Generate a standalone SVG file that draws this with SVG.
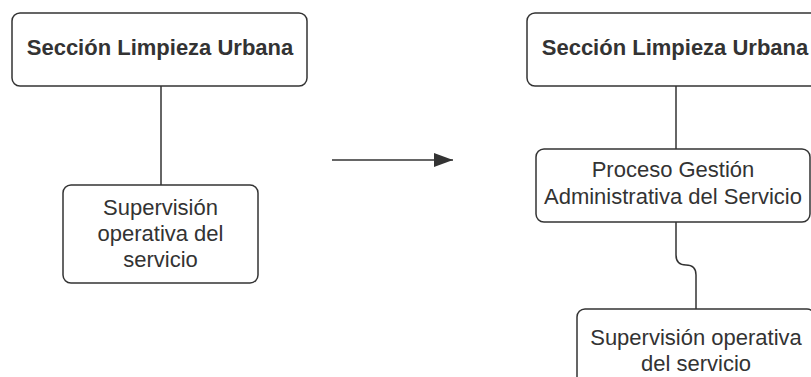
<svg xmlns="http://www.w3.org/2000/svg" width="811" height="377" viewBox="0 0 811 377">
  <defs>
    <style>
      .box { fill: #ffffff; stroke: #333333; stroke-width: 1.5; }
      .lbl { font-family: "Liberation Sans", Arial, sans-serif; font-size: 22px; fill: #333333; text-anchor: middle; }
      .bold { font-weight: bold; }
      .wire { fill: none; stroke: #333333; stroke-width: 1.5; }
    </style>
    <marker id="arrowhead" markerWidth="20" markerHeight="14" refX="19" refY="7" orient="auto" markerUnits="userSpaceOnUse">
      <path d="M0,0 L19,7 L0,14 Z" fill="#333333"/>
    </marker>
  </defs>
  <rect width="811" height="377" fill="#ffffff"/>

  <g id="connectors">
    <line class="wire" x1="161" y1="86" x2="161" y2="185"/>
    <line class="wire" x1="332" y1="160" x2="453" y2="160" marker-end="url(#arrowhead)"/>
    <line class="wire" x1="676" y1="86" x2="676" y2="149"/>
    <path class="wire" d="M676,222 V255 Q676,265 686,265 Q696,265 696,275 V309"/>
  </g>

  <g id="seccion-antes">
    <rect class="box" x="12" y="13" width="295" height="73" rx="8"/>
    <text class="lbl bold" x="160" y="55">Sección Limpieza Urbana</text>
  </g>

  <g id="supervision-antes">
    <rect class="box" x="63" y="185" width="195" height="98" rx="8"/>
    <text class="lbl" x="160.5" y="215">Supervisión</text>
    <text class="lbl" x="160.5" y="241">operativa del</text>
    <text class="lbl" x="160.5" y="267">servicio</text>
  </g>

  <g id="seccion-despues">
    <rect class="box" x="527" y="13" width="295" height="73" rx="8"/>
    <text class="lbl bold" x="675" y="55">Sección Limpieza Urbana</text>
  </g>

  <g id="proceso-gestion">
    <rect class="box" x="536" y="149" width="274" height="73" rx="8"/>
    <text class="lbl" x="673" y="177">Proceso Gestión</text>
    <text class="lbl" x="673" y="204">Administrativa del Servicio</text>
  </g>

  <g id="supervision-despues">
    <rect class="box" x="577" y="309" width="238" height="90" rx="8"/>
    <text class="lbl" x="696" y="345">Supervisión operativa</text>
    <text class="lbl" x="696" y="371">del servicio</text>
  </g>
</svg>
